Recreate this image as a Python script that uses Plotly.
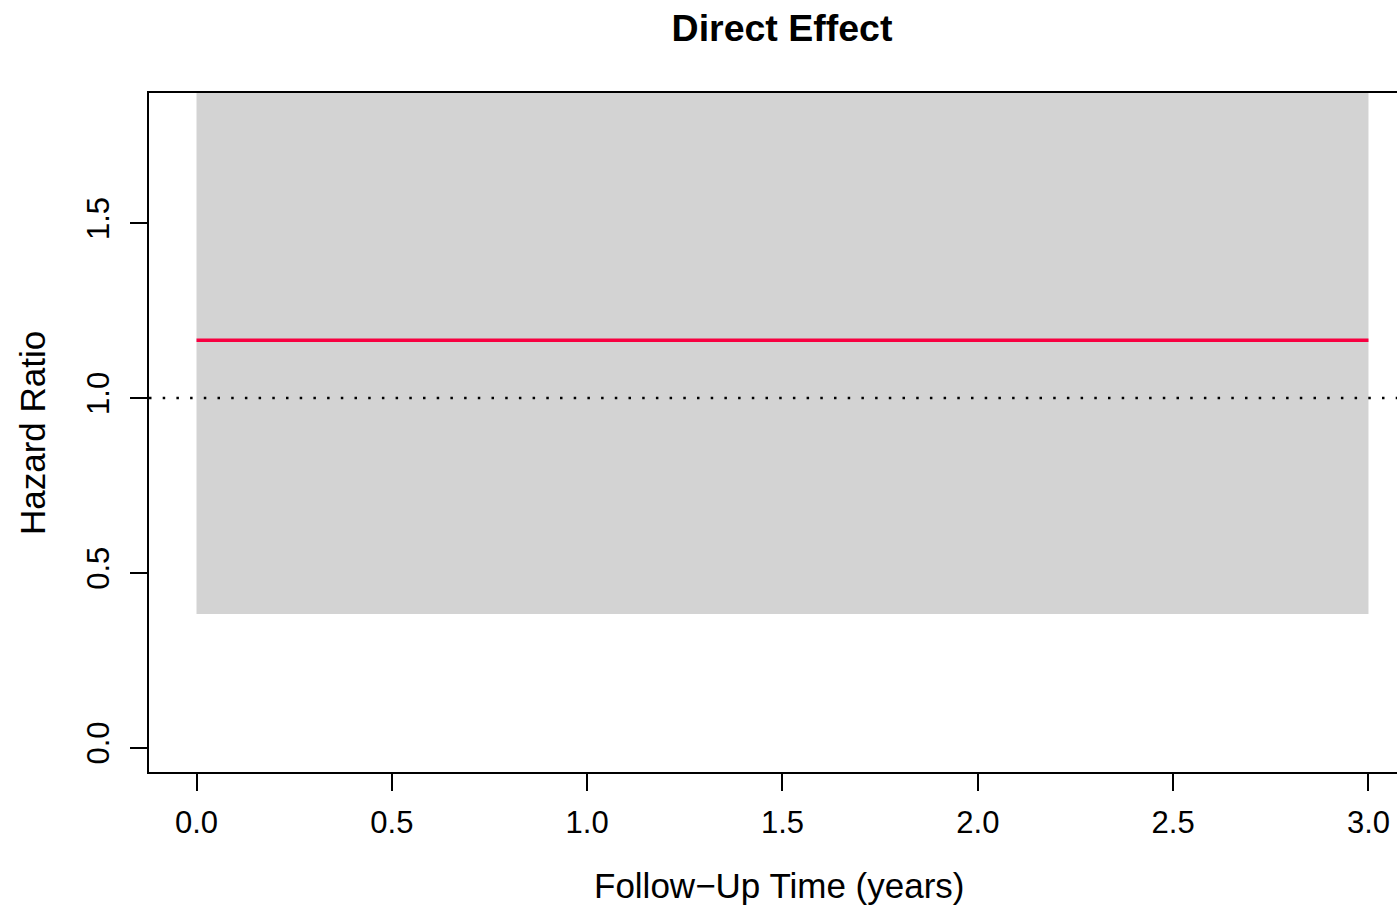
import plotly.graph_objects as go

# Data
time_years = [0.0, 3.0]
hazard_ratio = [1.165, 1.165]
ci_lower = [0.382, 0.382]
ci_upper = [2.2, 2.2]
reference_hr = 1.0
x_ticks = [0.0, 0.5, 1.0, 1.5, 2.0, 2.5, 3.0]
x_tick_labels = ["0.0", "0.5", "1.0", "1.5", "2.0", "2.5", "3.0"]
y_ticks = [0.0, 0.5, 1.0, 1.5]
y_tick_labels = ["0.0", "0.5", "1.0", "1.5"]

W, H = 1397, 907
L, T, B = 149, 93, 135
FONT = "Liberation Sans, Arial, Helvetica, sans-serif"

fig = go.Figure()
fig.add_trace(go.Scatter(x=time_years, y=ci_lower, mode="lines",
                         line=dict(width=0, color="#D3D3D3"), showlegend=False, hoverinfo="skip"))
fig.add_trace(go.Scatter(x=time_years, y=ci_upper, mode="lines", fill="tonexty",
                         fillcolor="#D3D3D3", line=dict(width=0, color="#D3D3D3"),
                         showlegend=False, hoverinfo="skip"))
fig.add_trace(go.Scatter(x=time_years, y=hazard_ratio, mode="lines",
                         line=dict(width=3.3, color="#F70040"), showlegend=False))
fig.add_hline(y=reference_hr, line=dict(color="black", width=2.5, dash="2.5px,11.2px"))

def px_x(p):
    return (p - L) / (W - L)

def px_y(p):
    return (H - B - p) / (H - B - T)

fig.update_layout(
    width=W, height=H,
    margin=dict(l=L, r=0, t=T, b=B, pad=0),
    paper_bgcolor="white", plot_bgcolor="white",
    font=dict(family=FONT, size=31, color="black"),
    showlegend=False,
    title=dict(text="<b>Direct Effect</b>", font=dict(size=37.5, family=FONT, color="black"),
               xref="container", x=782 / W, xanchor="center",
               yref="container", y=1 - 28 / H, yanchor="middle"),
    xaxis=dict(range=[-0.1216, 3.073], tickvals=x_ticks, ticktext=x_tick_labels,
               ticks="outside", ticklen=17, tickwidth=1.5, tickcolor="black",
               showline=True, linecolor="black", linewidth=2, mirror=True,
               showgrid=False, zeroline=False, ticklabelstandoff=5),
    yaxis=dict(range=[-0.0695, 1.872], tickvals=y_ticks, ticktext=y_tick_labels,
               ticks="outside", ticklen=17, tickwidth=1.5, tickcolor="black",
               tickangle=-90,
               showline=True, linecolor="black", linewidth=2, mirror=False,
               showgrid=False, zeroline=False, ticklabelstandoff=9),
    annotations=[
        dict(text="Follow\u2212Up Time (years)", xref="paper", yref="paper",
             x=px_x(779), y=px_y(885), xanchor="center", yanchor="middle",
             showarrow=False, font=dict(size=35, family=FONT)),
        dict(text="Hazard Ratio", xref="paper", yref="paper",
             x=px_x(32), y=px_y(433), xanchor="center", yanchor="middle",
             textangle=-90, showarrow=False, font=dict(size=35, family=FONT)),
    ],
)

fig.write_html("out.html", config={"displayModeBar": False},
               post_script="document.body.style.margin='0';document.body.style.overflow='hidden';")
